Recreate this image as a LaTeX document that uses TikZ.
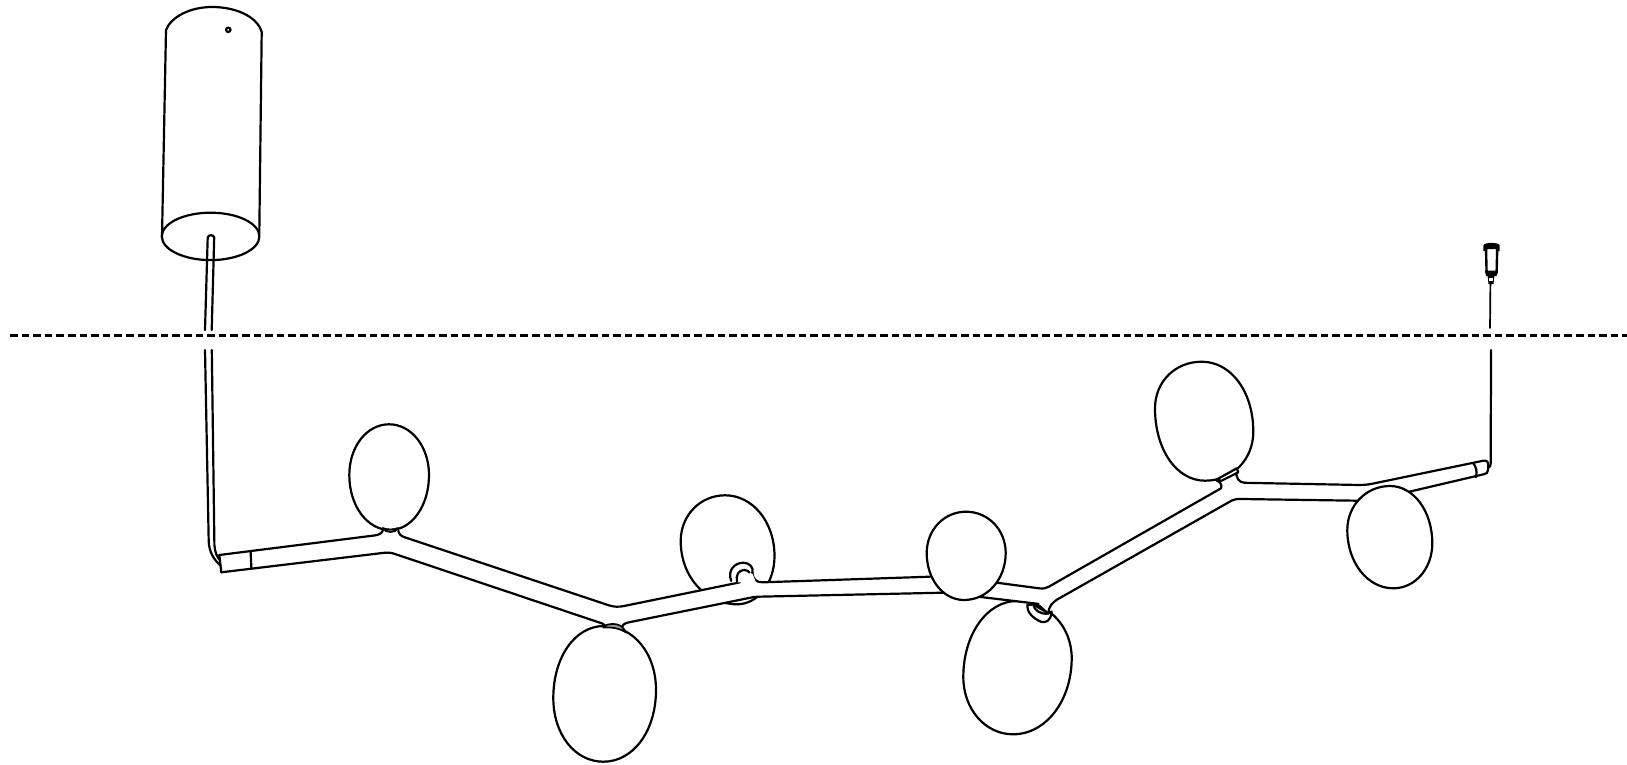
\documentclass[tikz,border=0pt]{standalone}
\tikzset{
  ink/.style={draw=black,line width=1.1pt,line cap=round,line join=round},
  globe/.style={ink,fill=white},
  armfill/.style={fill=white,draw=none},
  collar/.style={ink,fill=black!40,line width=0.85pt},
  collarw/.style={ink,fill=white},
  cutline/.style={draw=black,line width=1.25pt,dash pattern=on 7.6*0.5pt off 4*0.5pt},
}
% a globe through its top, right, bottom and left extreme points, with handle ratio #9
\newcommand{\globeshape}[9]{%
  \draw[globe] (#1,#2) .. controls ({#1+#9*(#3-#1)},#2) and (#3,{#4-#9*(#4-#2)}) .. (#3,#4)
    .. controls (#3,{#4+#9*(#6-#4)}) and ({#5+#9*(#3-#5)},#6) .. (#5,#6)
    .. controls ({#5-#9*(#5-#7)},#6) and (#7,{#8+#9*(#6-#8)}) .. (#7,#8)
    .. controls (#7,{#8-#9*(#8-#2)}) and ({#1-#9*(#1-#7)},#2) .. cycle;}
\begin{document}
\begin{tikzpicture}[x=0.5pt,y=-0.5pt]
\useasboundingbox (0,0) rectangle (1627,765);
% cut line
\draw[cutline] (10,335.7) -- (1627,335.7);
% ceiling cylinder
\draw[ink,fill=white] (166,30) .. controls (171,17) and (190,7) .. (212,7) .. controls (235,7) and (257,16) .. (261.7,32) -- (259.3,234) -- (162,237) -- cycle;
\draw[globe] (210.6,236.4) ellipse [x radius=48.8, y radius=23.7];
\draw[ink,line width=1.1pt] (228.3,29.8) circle [radius=2.2];
% suspension rod
\draw[ink] (205,330) -- (207.7,237.5) .. controls (208,234.5) and (214,234.5) .. (214.2,237.5) -- (211.7,330);
% globes behind the arm
\globeshape{725}{495.3}{774.5}{556}{737}{604.3}{680.7}{541}{0.56}
\globeshape{1017}{601}{1071.7}{658}{1013}{734.3}{963.3}{677}{0.56}
\globeshape{604}{626}{656}{690}{603.3}{761.7}{553.3}{698}{0.57}
\globeshape{389}{424.3}{429}{475}{390}{530}{349.3}{475}{0.56}
\globeshape{1201.7}{361.7}{1253.3}{431.7}{1205}{480.7}{1155}{408.3}{0.57}
% arm body
\path[armfill] (219.3,555) -- (378,535) -- (383,529) -- (398,531) -- (405,537) -- (617,607) -- (740,582) -- (753,578) -- (762,582) -- (930,577) -- (997,582.7) -- (1044,588) -- (1180,511.7) -- (1221,488) -- (1216,480.7) -- (1236,470) -- (1242,482.7) -- (1362,485) -- (1483.3,460.7) -- (1488.3,465) -- (1486.7,473.3) -- (1400,494) -- (1357,500.7) -- (1238,499) -- (1053,601) -- (1048.3,612) -- (1039.3,604) -- (943,592.7) -- (757,596.6) -- (628,622.5) -- (621,630) -- (603.3,627) -- (603.3,624) -- (390,553) -- (221.3,572.3) -- cycle;
\draw[ink] (219.3,555) -- (375,535.4) .. controls (380,534.6) and (383,532.5) .. (383,529);
\draw[ink] (221.3,572.3) -- (384,552.8) .. controls (388,552.4) and (391,552.6) .. (395,554) -- (602,623.4) .. controls (604,624.2) and (605,625.4) .. (605,627);
\draw[ink] (398.3,530.7) .. controls (399,534.5) and (401,536) .. (405,537.4) -- (609,605.4) .. controls (613,606.8) and (619,607.2) .. (624,606) -- (740,582.3);
\draw[ink] (621.5,628) .. controls (622,625) and (624.5,623.4) .. (628,622.5) -- (749,598) .. controls (752,597.2) and (755,596.8) .. (758,596.7) -- (943,592.7);
\draw[ink] (752.3,572) .. controls (752.6,579) and (756,582.5) .. (763,582.3) -- (930,576.7);
\draw[ink] (978.3,596.7) -- (1038.6,603.9);
\draw[ink] (996.7,582.7) -- (1039,588.3) .. controls (1043,588.8) and (1046,588.4) .. (1049,586.6) -- (1221,488.3) .. controls (1222.5,485) and (1220,481.5) .. (1216.5,480.5);
\draw[ink] (1048.3,613.3) .. controls (1049,606) and (1052,603) .. (1057,599.6) -- (1232,500.4) .. controls (1235,499) and (1238,498.8) .. (1241,499) -- (1357,500.7);
\draw[ink] (1236,470) .. controls (1236,478) and (1238.5,482.6) .. (1245,482.8) -- (1355,484.9) .. controls (1361,485) and (1366,485) .. (1371,484) -- (1483.3,460.7) .. controls (1486.5,460) and (1488.3,462) .. (1488.3,465) -- (1488,470) .. controls (1487.5,473) and (1486.7,473.6) .. (1484,474.2) -- (1409.3,491.7);
% end bands
\draw[ink] (219.3,555) -- (221.3,572.3);
\draw[ink] (250.6,551.4) -- (251.4,568.6);
\draw[ink] (1473,463) .. controls (1476,466) and (1477.5,472) .. (1476,477.3);
% rod ends
\draw[ink] (205,350) -- (208.7,541) .. controls (209,552) and (214,560) .. (220.6,565.5);
\draw[ink] (211.8,350) -- (214.4,545) .. controls (214.8,552) and (217,557) .. (220.2,560.5);
\draw[ink] (1491,350) -- (1490.7,463) .. controls (1490.7,466) and (1490,467) .. (1488.3,467.6);
% globes in front of the arm
\globeshape{966}{511.7}{1005.7}{553}{964}{600}{926.7}{553}{0.56}
\globeshape{1390}{486}{1432.3}{543.3}{1393.3}{588.3}{1347.3}{530}{0.56}
% collars
\draw[collar] (382.7,528) .. controls (387,530) and (394,530) .. (398,528) .. controls (396,533.4) and (385,533.4) .. cycle;
\draw[collar] (603.3,627) .. controls (606,623.5) and (619,622) .. (623.3,628.3) -- (626,632.5) .. controls (620,628) and (610,627) .. (603.3,627.5) -- cycle;
\draw[collarw] (1217.7,479) -- (1236.7,468.3) -- (1238.3,472.3) -- (1221,481) -- cycle;
% ring, upper globe holder
\path[fill=white] (731,582) .. controls (727,570) and (735,562.7) .. (743.3,562.7) .. controls (750,562.7) and (754,568) .. (752.3,573) -- (756,583) -- cycle;
\draw[ink] (731.2,581) .. controls (727,570) and (735,562.7) .. (743.3,562.7) .. controls (750,562.7) and (754,568) .. (752.3,573);
\draw[ink] (737,581.7) .. controls (735.5,575) and (739,570) .. (744,570) .. controls (746.5,570) and (748.5,571) .. (749.5,572.5);
% ring, lower globe holder
\draw[ink,fill=white] (1027.3,605) .. controls (1026.5,611) and (1032,618) .. (1041,621.8) .. controls (1046,623) and (1051,621) .. (1051.6,611.5) -- (1048.3,613.3) -- (1033.3,604.5) -- cycle;
\draw[ink] (1033.3,604.5) .. controls (1034,610) and (1040,614.5) .. (1048.3,613.6);
% wall anchor
\fill[black] (1483.3,251) -- (1483.3,245.5) .. controls (1484,242) and (1499,242) .. (1499.6,245.5) -- (1499.6,251) -- cycle;
\draw[ink,fill=white,line width=1.2pt] (1486,248) -- (1486.6,273) -- (1496.6,273) -- (1497.2,248) -- cycle;
\fill[black] (1484.8,270.5) -- (1498,270.5) -- (1496.5,276) -- (1486.3,276) -- cycle;
\fill[black] (1487.5,275) -- (1494.5,275) -- (1493.5,284) -- (1488.5,284) -- cycle;
\fill[white] (1489,278) rectangle (1493,280.5);
\draw[ink,line width=0.85pt] (1490.4,284) -- (1490,328);
\end{tikzpicture}
\end{document}
